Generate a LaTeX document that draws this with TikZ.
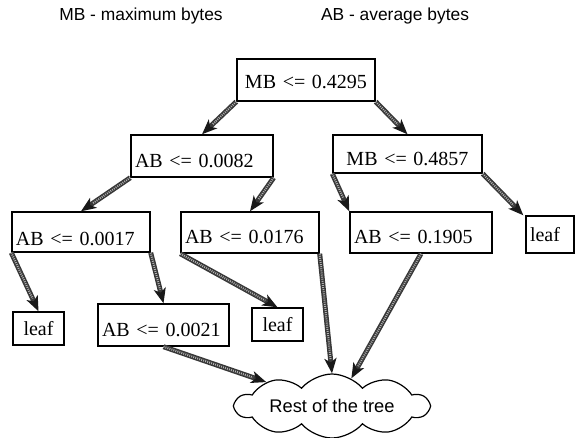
\documentclass[tikz,border=0pt]{standalone}
\usepackage{fontspec}
\setmainfont{Liberation Serif}
\setsansfont{Liberation Sans}
\usetikzlibrary{arrows.meta,shapes.symbols}

\tikzset{
  box/.style={draw=black, line width=1.4pt, fill=white, inner xsep=4pt, inner ysep=0pt,
    align=left, font=\fontsize{20}{22}\selectfont, anchor=center,
    text height=22pt, text depth=0pt},
  cbox/.style={box, align=center},
  leafbox/.style={box, align=center, text height=13.5pt},
  title/.style={font=\sffamily\fontsize{17.4}{20}\selectfont},
  conn/.style={-{Stealth[length=15pt,width=12pt,inset=4pt,color=black!90]}, line width=5pt, draw=black!78,
    postaction={draw=gray!60, -, line width=2pt, dash pattern=on 0.9pt off 1.2pt, shorten >=14pt}},
  cloudnode/.style={cloud, draw=black, line width=1.2pt, fill=white, cloud puffs=10,
    cloud puff arc=100, aspect=3.0, minimum width=193pt, minimum height=64pt, inner sep=0pt},
  cloudtext/.style={font=\sffamily\fontsize{18.3}{20}\selectfont, inner sep=0pt}
}

\begin{document}
\begin{tikzpicture}[x=1pt, y=-1pt]
  \useasboundingbox (0,0) rectangle (575,437);

  % legend
  \node[title] (t1) at (141,16) {MB - maximum bytes};
  \node[title] (t2) at (395,16) {AB - average bytes};

  % decision nodes
  \node[cbox, text width=130pt, minimum height=42pt, text height=16pt] (n1) at (306,80) {MB <= 0.4295};
  \node[box,  text width=134pt, minimum height=42pt] (n2) at (202,156) {AB <= 0.0082};
  \node[cbox, text width=141pt, minimum height=38pt] (n3) at (407.5,154) {MB <= 0.4857};
  \node[box,  text width=130pt, minimum height=40pt, text height=26pt] (n4) at (81,232) {AB <= 0.0017};
  \node[box,  text width=130pt, minimum height=41pt] (n5) at (250,232.5) {AB <= 0.0176};
  \node[box,  text width=134pt, minimum height=41pt] (n6) at (421,232.5) {AB <= 0.1905};
  \node[leafbox, align=left, text width=40pt, minimum height=37pt] (n7) at (550,234.5) {leaf};
  \node[leafbox, text width=43pt, minimum height=33pt] (n8) at (38.5,328.5) {leaf};
  \node[box,  text width=123pt, minimum height=42pt] (n9) at (163.5,325) {AB <= 0.0021};
  \node[leafbox, text width=43pt, minimum height=33pt] (n10) at (277.5,324.5) {leaf};

  % remainder of the tree: outline, then its caption
  \node[cloudnode] (cl) at (332,406) {};
  \node[cloudtext] (clt) at (cl.center) {Rest of the tree};

  % connectors
  \draw[conn] (n1.south west) -- (n2.north);
  \draw[conn] (n1.south east) -- (n3.north);
  \draw[conn] (n2.south west) -- (n4.north);
  \draw[conn] (n2.south east) -- (n5.north);
  \draw[conn] (n3.south west) -- (n6.north west);
  \draw[conn] (n3.south east) -- ([xshift=-2pt]n7.north west);
  \draw[conn] (n4.south west) -- (n8.north);
  \draw[conn] (n4.south east) -- (n9.north);
  \draw[conn] (n5.south west) -- (n10.north);
  \draw[conn] (n5.south east) -- (cl.north);
  \draw[conn] (n6.south) -- (cl.55);
  \draw[conn] (n9.south) -- (cl.160);
\end{tikzpicture}
\end{document}
